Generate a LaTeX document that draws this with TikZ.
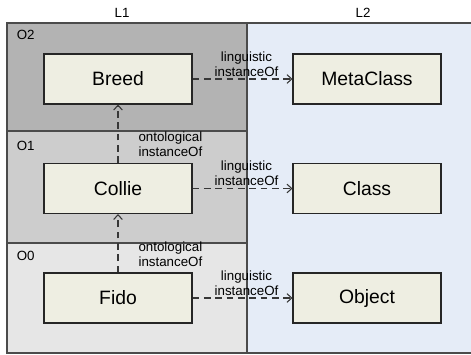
\documentclass[tikz,border=0pt]{standalone}
\usepackage{fontspec}
\setmainfont{Liberation Sans}
\usepackage{xcolor}
\usetikzlibrary{arrows.meta,positioning}
\definecolor{levelTwo}{RGB}{179,179,179}
\definecolor{levelOne}{RGB}{205,205,205}
\definecolor{levelZero}{RGB}{230,230,230}
\definecolor{lingblue}{RGB}{229,236,247}
\definecolor{boxfill}{RGB}{238,238,226}
\definecolor{framegray}{RGB}{75,75,75}
\definecolor{arrowgray}{RGB}{55,55,55}

\tikzset{
  elem/.style={draw=black!85, line width=0.8pt, fill=boxfill, minimum width=111pt,
    minimum height=37.5pt, inner sep=0pt, font=\fontsize{14.5}{17}\selectfont},
  inst/.style={draw=arrowgray, line width=0.8pt, dash pattern=on 5pt off 3.5pt,
    -{Straight Barb[length=3.5pt,width=6.5pt]}},
  tag/.style={font=\fontsize{10}{11.5}\selectfont, align=center, inner sep=0pt},
  band/.style={draw=framegray, line width=0.9pt}
}

\begin{document}
\begin{tikzpicture}[x=0.75pt,y=-0.75pt]
        \useasboundingbox (0,0) rectangle (471,354);
        % Levels and layers
        \filldraw[band, fill=lingblue] (247,23) rectangle (471.5,353);
        \filldraw[band, fill=levelTwo] (7,23) rectangle (247,131);
        \filldraw[band, fill=levelOne] (7,131) rectangle (247,243);
        \filldraw[band, fill=levelZero] (7,243) rectangle (247,353);
        \node[tag, anchor=base] (l1) at (122,17.3) {L1};
        \node[tag, anchor=base] (l2) at (363,17.3) {L2};
        \node[tag, anchor=base west] (o2) at (16.5,39.3) {O2};
        \node[tag, anchor=base west] (o1) at (16.5,150.7) {O1};
        \node[tag, anchor=base west] (o0) at (16.5,260.3) {O0};
        % Elements
        \node[elem] (breed) at (118,79) {Breed};
        \node[elem] (collie) at (118,188.5) {Collie};
        \node[elem] (fido) at (118,298) {Fido};
        \node[elem] (metaclass) at (367,79) {MetaClass};
        \node[elem] (class) at (367,188.5) {Class};
        \node[elem] (object) at (367,298) {Object};
        % Ontological instanceOf
        \draw[inst] (collie) -- (breed)
            node[pos=0, tag, anchor=south west, xshift=15pt, yshift=4pt] {ontological\\instanceOf};
        \draw[inst] (fido) -- (collie)
            node[pos=0, tag, anchor=south west, xshift=15pt, yshift=4pt] {ontological\\instanceOf};
        % Linguistic instanceOf
        \draw[inst] (breed) -- (metaclass)
            node[midway, tag, anchor=south, xshift=3pt, yshift=1.5pt] {linguistic\\instanceOf};
        \draw[inst] (collie) -- (class)
            node[midway, tag, anchor=south, xshift=3pt, yshift=1.5pt] {linguistic\\instanceOf};
        \draw[inst] (fido) -- (object)
            node[midway, tag, anchor=south, xshift=3pt, yshift=1.5pt] {linguistic\\instanceOf};
\end{tikzpicture}
\end{document}
